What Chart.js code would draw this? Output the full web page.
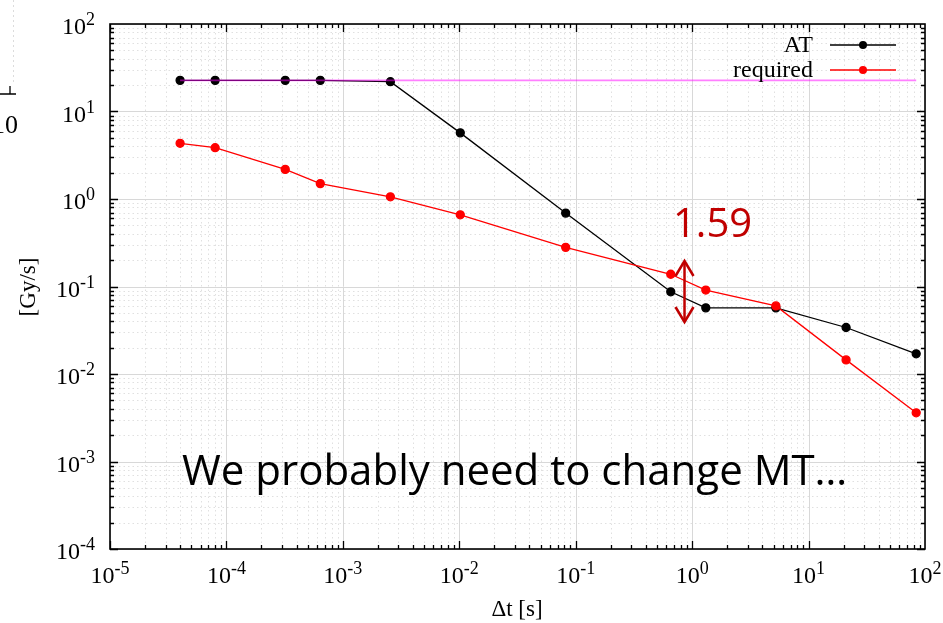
<!DOCTYPE html>
<html>
<head>
<meta charset="utf-8">
<script src="https://cdn.jsdelivr.net/npm/chart.js@4/dist/chart.umd.min.js"></script>
<style>
  html, body { margin: 0; padding: 0; background: #fff; }
  #wrap { width: 943px; height: 623px; position: relative; }
</style>
</head>
<body>
<div id="wrap"><canvas id="dose"></canvas></div>
<script>
// time step [s] and dose rates [Gy/s]
const dtValues = [4e-5, 8e-5, 3.2e-4, 6.4e-4, 2.56e-3, 1.02e-2, 8.2e-2, 0.655, 1.31, 5.24, 21, 84];
const atRates = [22.7, 22.7, 22.7, 22.7, 21.9, 5.7, 0.69, 0.087, 0.057, 0.057, 0.034, 0.017];
const requiredRates = [4.33, 3.86, 2.18, 1.5, 1.06, 0.66, 0.28, 0.138, 0.091, 0.06, 0.0145, 0.0036];
const limitDt = [4e-5, 84];
const limitRate = [22.7, 22.7];
const xExponents = [-5, -4, -3, -2, -1, 0, 1, 2];
const yExponents = [-4, -3, -2, -1, 0, 1, 2];
const seriesNames = ["AT", "required"];

const toPoints = (xs, ys) => xs.map((x, i) => ({ x: x, y: ys[i] }));

function drawPow(c, exp, x, y, align) {
  const base = "10", ex = String(exp);
  c.font = '24px "Liberation Serif", serif';
  const bw = c.measureText(base).width;
  c.font = '18px "Liberation Serif", serif';
  const ew = c.measureText(ex).width;
  let left = align === "right" ? x - bw - ew : x - (bw + ew) / 2;
  c.textAlign = "left";
  c.textBaseline = "alphabetic";
  c.font = '24px "Liberation Serif", serif';
  c.fillText(base, left, y);
  c.font = '18px "Liberation Serif", serif';
  c.fillText(ex, left + bw, y - 9);
}

const framePlugin = {
  id: "frame",
  beforeDatasetsDraw(chart) {
    const c = chart.ctx, a = chart.chartArea;
    const xs = chart.scales.x, ys = chart.scales.y;
    c.save();
    // grid
    c.lineWidth = 1;
    c.strokeStyle = "#e0e0e0"; c.setLineDash([1.5, 3]);
    for (let e = -5; e < 2; e++) {
      for (let m = 2; m < 10; m++) {
        const px = Math.round(xs.getPixelForValue(m * Math.pow(10, e))) + 0.5;
        c.beginPath(); c.moveTo(px, a.top); c.lineTo(px, a.bottom); c.stroke();
      }
    }
    for (let e = -4; e < 2; e++) {
      for (let m = 2; m < 10; m++) {
        const py = Math.round(ys.getPixelForValue(m * Math.pow(10, e))) + 0.5;
        c.beginPath(); c.moveTo(a.left, py); c.lineTo(a.right, py); c.stroke();
      }
    }
    c.setLineDash([]);
    c.strokeStyle = "#d8d8d8";
    xExponents.forEach(e => {
      const px = Math.round(xs.getPixelForValue(Math.pow(10, e))) + 0.5;
      c.beginPath(); c.moveTo(px, a.top); c.lineTo(px, a.bottom); c.stroke();
    });
    yExponents.forEach(e => {
      const py = Math.round(ys.getPixelForValue(Math.pow(10, e))) + 0.5;
      c.beginPath(); c.moveTo(a.left, py); c.lineTo(a.right, py); c.stroke();
    });
    c.restore();
  },
  afterDatasetsDraw(chart) {
    const c = chart.ctx, a = chart.chartArea;
    const xs = chart.scales.x, ys = chart.scales.y;
    c.save();
    // inward ticks on all sides
    c.strokeStyle = "#000"; c.lineWidth = 1.3;
    for (let e = -5; e < 2; e++) {
      for (let m = 1; m < 10; m++) {
        const px = Math.round(xs.getPixelForValue(m * Math.pow(10, e))) + 0.5;
        const len = m === 1 ? 8 : 4;
        c.beginPath();
        c.moveTo(px, a.bottom); c.lineTo(px, a.bottom - len);
        c.moveTo(px, a.top); c.lineTo(px, a.top + len);
        c.stroke();
      }
    }
    for (let e = -4; e < 2; e++) {
      for (let m = 1; m < 10; m++) {
        const py = Math.round(ys.getPixelForValue(m * Math.pow(10, e))) + 0.5;
        const len = m === 1 ? 8 : 4;
        c.beginPath();
        c.moveTo(a.left, py); c.lineTo(a.left + len, py);
        c.moveTo(a.right, py); c.lineTo(a.right - len, py);
        c.stroke();
      }
    }
    c.lineWidth = 1.6;
    c.strokeRect(a.left, a.top, a.right - a.left, a.bottom - a.top);

    // tick labels
    c.fillStyle = "#000";
    yExponents.forEach(e => drawPow(c, e, a.left - 15, ys.getPixelForValue(Math.pow(10, e)) + 10, "right"));
    xExponents.forEach(e => drawPow(c, e, xs.getPixelForValue(Math.pow(10, e)), a.bottom + 34, "center"));

    // axis titles
    c.font = '23px "Liberation Serif", serif';
    c.textAlign = "center"; c.textBaseline = "alphabetic";
    c.fillText("\u0394t [s]", 517, 616);
    c.save();
    c.translate(35, 287); c.rotate(-Math.PI / 2);
    c.fillText("[Gy/s]", 0, 0);
    c.restore();

    // legend
    const ds = chart.data.datasets;
    [2, 1].forEach((di, row) => {
      const y = 45 + row * 25;
      c.font = '24px "Liberation Serif", serif';
      c.textAlign = "right"; c.textBaseline = "middle";
      c.fillStyle = "#000";
      c.fillText(seriesNames[row], 813, y + 1);
      c.strokeStyle = ds[di].borderColor; c.lineWidth = 1.4;
      c.beginPath(); c.moveTo(830, y); c.lineTo(896, y); c.stroke();
      c.fillStyle = ds[di].borderColor;
      c.beginPath(); c.arc(863, y, 4, 0, Math.PI * 2); c.fill();
    });

    // annotations
    c.fillStyle = "#c00000";
    c.font = '40px "Open Sans", sans-serif';
    c.textAlign = "left"; c.textBaseline = "alphabetic";
    c.fillText("1.59", 673, 237);
    const ax = xs.getPixelForValue(0.86);
    c.strokeStyle = "#c00000"; c.lineWidth = 2.5; c.lineJoin = "miter";
    c.beginPath(); c.moveTo(ax, 261); c.lineTo(ax, 322); c.stroke();
    c.beginPath(); c.moveTo(ax - 9, 276); c.lineTo(ax, 261); c.lineTo(ax + 9, 276); c.stroke();
    c.beginPath(); c.moveTo(ax - 9, 307); c.lineTo(ax, 322); c.lineTo(ax + 9, 307); c.stroke();

    c.fillStyle = "#000";
    c.font = '42px "Open Sans", sans-serif';
    c.fillText("We probably need to change MT\u2026", 182, 485, 666);

    // cut-off piece of a neighbouring panel at the far left
    c.font = '26px "Liberation Serif", serif';
    c.textAlign = "right";
    c.fillText("10", 18, 133);
    c.strokeStyle = "#000"; c.lineWidth = 1.3;
    c.beginPath(); c.moveTo(0, 94); c.lineTo(16, 94); c.moveTo(10, 94); c.lineTo(10, 86); c.stroke();
    c.strokeStyle = "#dcdcdc"; c.lineWidth = 1; c.setLineDash([2, 3]);
    c.beginPath(); c.moveTo(13.5, 0); c.lineTo(13.5, 84); c.stroke();
    c.restore();
  }
};

new Chart(document.getElementById("dose"), {
  type: "line",
  data: {
    datasets: [
      {
        label: "limit",
        data: toPoints(limitDt, limitRate),
        borderColor: "rgba(255,0,255,0.5)",
        borderWidth: 1.6,
        pointRadius: 0,
      },
      {
        label: seriesNames[1],
        data: toPoints(dtValues, requiredRates),
        borderColor: "#ff0000",
        backgroundColor: "#ff0000",
        borderWidth: 1.3,
        pointRadius: 4,
      },
      {
        label: seriesNames[0],
        data: toPoints(dtValues, atRates),
        borderColor: "#000000",
        backgroundColor: "#000000",
        borderWidth: 1.3,
        pointRadius: 4,
      },
    ],
  },
  options: {
    responsive: true,
    maintainAspectRatio: false,
    animation: false,
    layout: { padding: { left: 110, top: 24, right: 18, bottom: 74 } },
    scales: {
      x: { type: "logarithmic", min: 1e-5, max: 100, display: false },
      y: { type: "logarithmic", min: 1e-4, max: 100, display: false },
    },
    plugins: {
      legend: { display: false },
      tooltip: { enabled: false },
    },
  },
  plugins: [framePlugin],
});
</script>
</body>
</html>
